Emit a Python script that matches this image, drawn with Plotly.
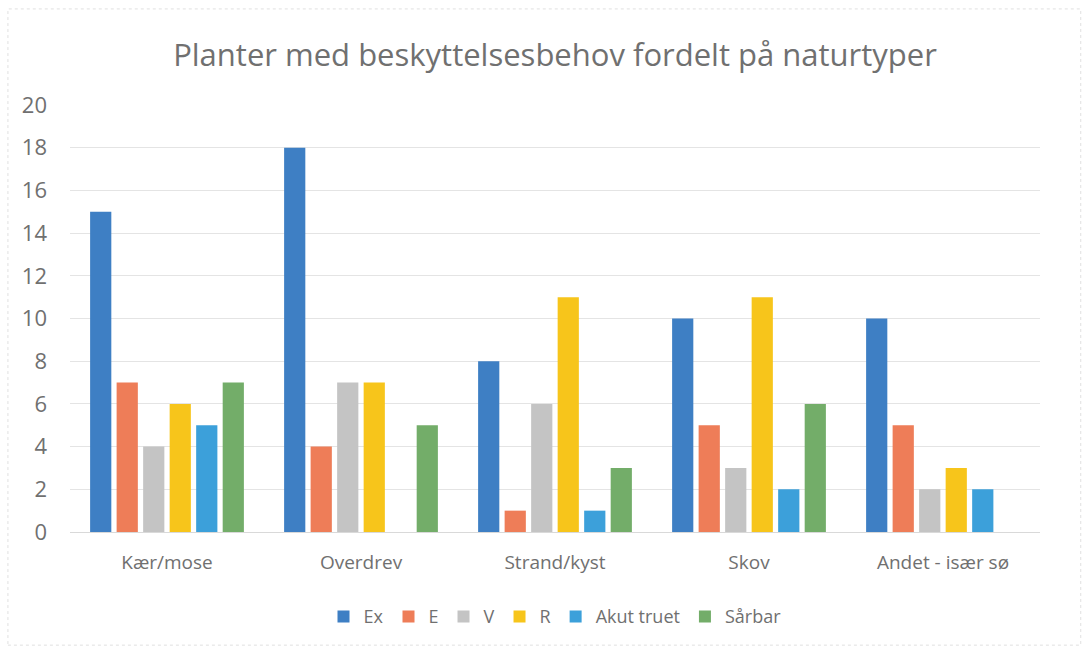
import plotly.graph_objects as go

categories = ["Kær/mose", "Overdrev", "Strand/kyst", "Skov", "Andet - især sø"]
series_names = ["Ex", "E", "V", "R", "Akut truet", "Sårbar"]
ex = [15, 18, 8, 10, 10]
e = [7, 4, 1, 5, 5]
v = [4, 7, 6, 3, 2]
r = [6, 7, 11, 11, 3]
akut = [5, 0, 1, 2, 2]
saarbar = [7, 5, 3, 6, 0]
y_ticks = [0, 2, 4, 6, 8, 10, 12, 14, 16, 18, 20]

colors = ["#3E7FC4", "#EE7D58", "#C4C4C4", "#F7C51B", "#3CA0DA", "#73AD69"]
values = [ex, e, v, r, akut, saarbar]

fig = go.Figure()
for name, vals, col in zip(series_names, values, colors):
    fig.add_trace(go.Bar(name=name, x=categories, y=vals, marker_color=col,
                         marker_line_width=0))

font = "Open Sans, Noto Sans, Liberation Sans, sans-serif"
fig.update_layout(
    width=1084, height=646,
    paper_bgcolor="white", plot_bgcolor="white",
    margin=dict(l=70, r=44, t=105, b=114, autoexpand=False),
    barmode="group", bargap=0.18, bargroupgap=0.2,
    title=dict(text="Planter med beskyttelsesbehov fordelt på naturtyper",
               xref="paper", x=0.5, xanchor="center", y=0.915, yanchor="middle",
               font=dict(family=font, size=31, color="#707070")),
    font=dict(family=font, color="#707070"),
    showlegend=True,
    legend=dict(orientation="h", x=0.5, xanchor="center", y=-0.155, yanchor="top",
                font=dict(size=18, color="#707070"), itemwidth=30,
                traceorder="normal"),
    xaxis=dict(showgrid=False, showline=True, linecolor="#D9D9D9",
               tickfont=dict(size=19, color="#707070"), ticks="",
               ticklabelstandoff=13),
    yaxis=dict(range=[0, 20], tickvals=y_ticks, showgrid=True,
               gridcolor="#E4E4E4", gridwidth=1, zeroline=False,
               tickfont=dict(size=22, color="#707070"), ticks="",
               showline=False, ticklabelstandoff=22),
)
fig.add_shape(type="rect", xref="paper", yref="paper", x0=-0.064, x1=1.042,
              y0=-0.265, y1=1.225, line=dict(color="#E0E0E0", width=1, dash="dot"))

fig.write_html("out.html", config={"displayModeBar": False},
               post_script="document.body.style.margin='0';")
